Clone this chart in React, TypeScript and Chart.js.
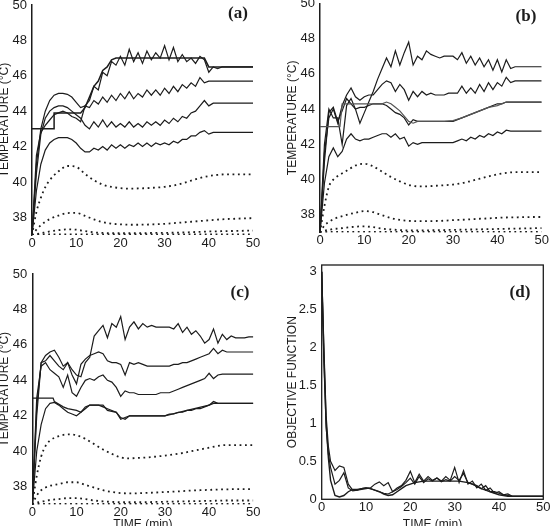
import React, { useEffect, useRef } from "react";
import { Chart, registerables } from "chart.js";
Chart.register(...registerables);

// ---------- shared axes ----------
const T = [0,1,2,3,4,5,6,7,8,9,10,11,12,13,14,15,16,17,18,19,20,21,22,23,24,25,26,27,28,29,30,31,32,33,34,35,36,37,38,39,40,41,42,43,44,45,46,47,48,49,50];
const T2 = [0,1,2,3,4,6,8,10,12,14,16,18,20,22,24,26,28,30,32,34,36,38,40,42,44,46,48,50];
const OBJ_T = [0,0.5,1,1.5,2,3,4,5,6,7,8,9,10,11,12,13,14,15,16,17,18,19,20,21,22,23,24,25,26,27,28,29,30,31,32,33,34,35,36,37,38,39,40,41,42,43,44,45,46,47,48,49,50];
const TIME_TICKS = [0, 10, 20, 30, 40, 50];
const TEMP_TICKS = [38, 40, 42, 44, 46, 48, 50];
const OBJ_TICKS = [0, 0.5, 1, 1.5, 2, 2.5, 3];

// ---------- panel (a) ----------
const A_REF_T = [0, 5, 5, 11, 12, 13, 14, 15, 16, 17, 18, 19, 39, 40, 50];
const A_REF = [43, 43, 43.9, 43.9, 44.2, 44.8, 45.4, 45.7, 46.3, 46.5, 46.9, 47.0, 47.0, 46.5, 46.5];
const A1 = [37,41.5,42.8,43.2,43.5,43.8,43.9,44.0,43.9,43.7,43.6, 43.4,44.3,44.6,45.4,45.2,46.2,46.0,46.8,46.6,47.1, 46.6,47.5,46.8,47.3,46.7,47.4,46.9,47.3,47.0,47.7, 46.9,47.6,46.8,47.2,46.8,47.0,46.7,47.1,46.9,46.2, 46.5,46.4,46.5,46.5,46.5,46.5,46.5,46.5,46.5,46.5];
const A2 = [37,41,43,44,44.6,44.9,45.0,45.0,44.95,44.8,44.5, 44.2,44.3,44.2,44.6,44.4,44.8,44.5,44.9,44.6,45.0, 44.7,45.1,44.7,45.0,44.8,45.2,44.9,45.2,44.9,45.3, 45.0,45.4,45.1,45.5,45.3,45.6,45.4,45.9,45.6,45.7, 45.7,45.7,45.7,45.7,45.7,45.7,45.7,45.7,45.7,45.7];
const A3 = [37,40.5,42.7,43.6,44.0,44.2,44.3,44.3,44.2,44.0,43.8, 43.6,43.2,43.0,43.4,43.1,43.5,43.1,43.4,43.1,43.3, 43.1,43.4,43.1,43.3,43.1,43.4,43.2,43.4,43.2,43.5, 43.3,43.6,43.4,43.7,43.6,43.9,44.0,44.3,44.6,44.3, 44.45,44.45,44.45,44.45,44.45,44.45,44.45,44.45,44.45,44.45];
const A4 = [37,39.5,41.0,41.8,42.2,42.4,42.5,42.5,42.5,42.4,42.2, 41.9,41.7,41.7,41.9,41.8,42.0,41.8,42.1,41.9,42.1, 41.9,42.1,42.0,42.2,42.0,42.2,42.0,42.2,42.1,42.2, 42.1,42.3,42.2,42.4,42.4,42.6,42.6,42.8,42.9,42.7, 42.8,42.8,42.8,42.8,42.8,42.8,42.8,42.8,42.8,42.8];
const A_D1 = [37,38.3,39.1,39.7,40.1,40.6,40.9,40.85,40.45,40.1,39.85,39.72,39.65,39.62,39.63,39.65,39.68,39.72,39.8,39.92,40.07,40.22,40.33,40.4,40.43,40.43,40.43,40.43];
const A_D2 = [37,37.3,37.55,37.75,37.9,38.1,38.24,38.25,38.08,37.88,37.73,37.64,37.6,37.58,37.58,37.59,37.61,37.63,37.67,37.71,37.75,37.79,37.83,37.87,37.9,37.92,37.94,37.95];
const A_D3 = [37,37.05,37.1,37.15,37.2,37.27,37.32,37.3,37.22,37.15,37.12,37.1,37.1,37.1,37.1,37.11,37.12,37.12,37.13,37.14,37.16,37.18,37.2,37.21,37.22,37.23,37.24,37.25];
const A_D4 = [37,37.02,37.03,37.03,37.03,37.03,37.03,37.03,37.03,37.03,37.03,37.03,37.03,37.03,37.03,37.03,37.03,37.03,37.03,37.03,37.03,37.03,37.03,37.03,37.03,37.03,37.03,37.03];

// ---------- panel (b) ----------
const B_REF_T = [0,4.5,5,14,15,16,17,18,19,20,21,22,24,26,28,30,32,34,36,38,40,42,44,50];
const B_REF = [43,43,44.3,44.3,44.4,44.3,44.1,43.9,43.6,43.3,43.2,43.3,43.3,43.3,43.3,43.35,43.5,43.7,43.9,44.1,44.2,44.4,44.4,44.4];
const B1 = [37,42,44.0,43.5,43.5,42.0,44.2,44.6,44.0,43.2,43.8, 44.4,45.0,45.7,46.3,46.9,46.4,47.3,46.5,47.2,47.8, 46.5,47.0,46.8,47.3,47.1,47.0,46.9,47.0,47.0,47.0, 46.8,47.2,46.6,47.0,46.5,46.9,46.4,46.8,46.2,46.8, 46.1,46.8,46.3,46.4,46.4,46.4,46.4,46.4,46.4,46.4];
const B2 = [37,41.5,43.5,44.0,43.2,44.2,44.8,45.2,44.7,44.5,44.7, 44.8,44.8,45.1,45.4,45.6,45.5,45.0,45.4,45.1,44.5, 45.0,44.7,45.0,44.8,44.9,44.8,44.8,44.8,44.9,44.9, 44.9,45.3,44.9,45.2,44.9,45.4,45.0,45.5,45.1,45.5, 45.3,45.8,45.5,45.6,45.6,45.6,45.6,45.6,45.6,45.6];
const B3 = [37,41,43.8,44.1,43.3,43.9,44.6,44.3,44.0,44.1,44.1, 44.2,44.3,44.3,44.3,44.2,44.0,43.8,43.7,43.5,43.1, 43.4,43.3,43.3,43.3,43.3,43.3,43.3,43.3,43.3,43.3, 43.4,43.5,43.6,43.7,43.8,43.9,44.0,44.1,44.2,44.3, 44.3,44.4,44.4,44.4,44.4,44.4,44.4,44.4,44.4,44.4];
const B4 = [37,39.8,41.3,41.8,41.3,41.6,42.3,42.6,42.3,42.2,42.3, 42.3,42.4,42.5,42.6,42.6,42.4,42.6,42.3,42.4,41.9, 42.1,42.0,42.1,42.1,42.1,42.1,42.1,42.1,42.1,42.1, 42.2,42.3,42.2,42.4,42.3,42.5,42.4,42.6,42.5,42.7, 42.6,42.8,42.75,42.75,42.75,42.75,42.75,42.75,42.75,42.75];
const B_D1 = [37,38.5,39.6,40.0,40.2,40.5,40.8,40.9,40.75,40.45,40.15,39.9,39.7,39.62,39.62,39.65,39.68,39.72,39.8,39.92,40.05,40.18,40.3,40.38,40.42,40.42,40.42,40.42];
const B_D2 = [37,37.4,37.6,37.75,37.85,38.0,38.12,38.22,38.15,37.98,37.82,37.72,37.66,37.64,37.64,37.65,37.67,37.7,37.72,37.75,37.78,37.8,37.83,37.85,37.86,37.87,37.88,37.88];
const B_D3 = [37,37.1,37.15,37.2,37.22,37.28,37.33,37.35,37.3,37.22,37.17,37.14,37.12,37.12,37.12,37.13,37.14,37.15,37.16,37.17,37.18,37.19,37.2,37.21,37.22,37.23,37.24,37.25];
const B_D4 = [37,37.02,37.03,37.03,37.03,37.03,37.03,37.03,37.03,37.03,37.03,37.03,37.03,37.03,37.03,37.03,37.03,37.03,37.03,37.03,37.03,37.03,37.03,37.03,37.03,37.03,37.03,37.03];

// ---------- panel (c) ----------
const C_REF_T = [0,4.7,5,7,8,10,11,12,13,16,17,19,20,21,22,25,30,35,40,41,42,50];
const C_REF = [43,43,42.8,42.5,42.4,42.3,42.2,42.5,42.6,42.6,42.3,42.2,41.9,41.8,42.0,42.0,42.0,42.3,42.6,42.8,42.7,42.7];
const C1 = [37,42.0,45.0,45.4,45.6,45.7,45.3,44.8,45.0,44.6,44.3, 44.2,45.0,45.3,46.5,46.8,47.1,46.4,47.2,47.0,47.6, 46.3,47.0,47.3,46.9,47.2,47.0,47.1,47.0,47.0,47.0, 47.0,46.9,47.2,46.7,47.0,46.6,46.8,46.5,46.1,46.3, 46.9,46.1,46.6,46.3,46.5,46.4,46.4,46.4,46.45,46.45];
const C2 = [37,42.5,45.0,45.1,45.4,45.1,44.8,44.6,45.0,44.3,43.8, 44.9,45.2,45.4,45.5,45.6,45.5,45.1,45.0,45.0,44.9, 44.3,45.0,44.9,45.0,44.9,44.8,44.8,44.8,44.8,44.8, 44.8,44.9,44.9,45.0,45.0,45.1,45.2,45.3,45.4,45.5, 45.8,45.5,45.7,45.6,45.6,45.6,45.6,45.6,45.6,45.6];
const C3 = [37,43.0,44.8,45.0,44.6,44.4,44.2,43.6,44.3,43.3,43.1, 43.6,44.0,44.1,44.0,44.2,44.3,44.0,43.9,43.6,43.1, 43.4,43.3,43.3,43.2,43.2,43.2,43.2,43.2,43.3,43.3, 43.3,43.4,43.5,43.6,43.7,43.8,43.9,44.0,44.1,44.4, 44.1,44.3,44.35,44.35,44.35,44.35,44.35,44.35,44.35,44.35];
const C4 = [37,40.0,41.5,42.4,42.7,42.75,42.6,42.4,42.2,42.1,42.0, 42.2,42.4,42.6,42.6,42.6,42.5,42.4,42.3,42.2,41.8, 41.9,42.0,42.0,42.0,42.0,42.0,42.0,42.0,42.0,42.0, 42.1,42.1,42.2,42.2,42.3,42.3,42.4,42.4,42.5,42.6, 42.7,42.7,42.7,42.7,42.7,42.7,42.7,42.7,42.7,42.7];
const C_D1 = [37,38.6,39.7,40.3,40.6,40.85,40.95,40.9,40.7,40.4,40.1,39.85,39.65,39.6,39.62,39.65,39.7,39.75,39.82,39.9,40.0,40.1,40.2,40.3,40.35,40.35,40.35,40.35];
const C_D2 = [37,37.5,37.8,37.95,38.05,38.15,38.25,38.25,38.1,37.95,37.8,37.7,37.64,37.62,37.63,37.65,37.67,37.7,37.72,37.75,37.78,37.8,37.82,37.84,37.85,37.86,37.86,37.86];
const C_D3 = [37,37.1,37.15,37.2,37.25,37.3,37.35,37.35,37.3,37.22,37.17,37.14,37.12,37.12,37.12,37.13,37.14,37.15,37.16,37.17,37.18,37.19,37.2,37.21,37.22,37.22,37.22,37.22];
const C_D4 = [37,37.02,37.03,37.03,37.03,37.03,37.03,37.03,37.03,37.03,37.03,37.03,37.03,37.03,37.03,37.03,37.03,37.03,37.03,37.03,37.03,37.03,37.03,37.03,37.03,37.03,37.03,37.03];

// ---------- panel (d) ----------
const O1 = [3.0,1.9,1.0,0.55, 0.25,0.05,0.03,0.05,0.1,0.13,0.13,0.14,0.15, 0.14,0.12,0.1,0.07,0.05,0.06,0.1,0.14,0.18,0.2, 0.22,0.23,0.24,0.24,0.24,0.24,0.24,0.24,0.24,0.24, 0.24,0.23,0.22,0.2,0.17,0.14,0.12,0.1,0.08,0.06, 0.05,0.04,0.04,0.04,0.04,0.04,0.04,0.04,0.04,0.04];
const O2 = [3.0,2.0,1.1,0.7, 0.5,0.38,0.44,0.42,0.2,0.12,0.12,0.13,0.14, 0.15,0.2,0.23,0.18,0.22,0.1,0.15,0.18,0.25,0.37, 0.22,0.33,0.24,0.3,0.25,0.28,0.24,0.3,0.25,0.42, 0.22,0.38,0.2,0.24,0.15,0.2,0.12,0.15,0.08,0.1, 0.06,0.07,0.04,0.04,0.04,0.04,0.04,0.04,0.04,0.04];
const O3 = [3.0,1.8,0.95,0.6, 0.42,0.2,0.25,0.35,0.15,0.11,0.12,0.14,0.15, 0.14,0.12,0.1,0.08,0.07,0.1,0.13,0.17,0.22,0.28, 0.2,0.3,0.22,0.27,0.24,0.28,0.23,0.26,0.24,0.3, 0.25,0.34,0.22,0.2,0.18,0.14,0.18,0.1,0.1,0.08, 0.06,0.05,0.04,0.04,0.04,0.04,0.04,0.04,0.04,0.04];

// ---------- styling ----------
const FONT = "'Liberation Sans', Arial, Helvetica, sans-serif";
const INK = "#1c1c1c";

function pts(xs: number[], ys: number[]) {
  return ys.map((y, i) => ({ x: xs[i], y }));
}
function solid(xs: number[], ys: number[], w = 1.2, color = INK) {
  return { data: pts(xs, ys), borderColor: color, borderWidth: w, pointRadius: 0, tension: 0, fill: false };
}
function dotted(xs: number[], ys: number[]) {
  return {
    data: pts(xs, ys), borderColor: INK, borderWidth: 1.8, borderDash: [1.8, 3.6],
    pointRadius: 0, cubicInterpolationMode: "monotone", fill: false,
  };
}

const framePlugin = {
  id: "frame",
  afterDatasetsDraw(chart: any, _args: any, opts: any) {
    if (!opts || !opts.on) return;
    const { left, top, right, bottom } = chart.chartArea;
    const ctx = chart.ctx;
    ctx.save();
    ctx.strokeStyle = INK;
    ctx.lineWidth = 1.3;
    ctx.strokeRect(left, top, right - left, bottom - top);
    ctx.restore();
  },
};

type PanelDef = {
  left: number; top: number; width: number; height: number;
  padTop: number; padRight: number; yWidth: number; xHeight: number;
  yMin: number; yMax: number; yTicks: number[]; yTitle: string;
  xTitle: string; xTickPad: number; xTitlePad: number; frame: boolean;
  datasets: any[];
};

function Panel({ p }: { p: PanelDef }) {
  const ref = useRef<HTMLCanvasElement>(null);
  useEffect(() => {
    const chart = new Chart(ref.current as HTMLCanvasElement, {
      type: "line",
      data: { datasets: p.datasets },
      options: {
        animation: false,
        responsive: false,
        devicePixelRatio: 1,
        layout: { padding: { top: p.padTop, right: p.padRight, left: 0, bottom: 0 } },
        plugins: { legend: { display: false }, tooltip: { enabled: false }, frame: { on: p.frame } } as any,
        scales: {
          x: {
            type: "linear", min: 0, max: 50,
            afterBuildTicks: (s: any) => { s.ticks = TIME_TICKS.map((v) => ({ value: v })); },
            afterFit: (s: any) => { s.height = p.xHeight; },
            grid: { display: false, drawTicks: false },
            border: { display: false },
            ticks: { padding: p.xTickPad, color: INK, maxRotation: 0, autoSkip: false, font: { family: FONT, size: 13 }, callback: (v: any) => String(v) },
            title: { display: p.xTitle !== "", text: p.xTitle, color: INK, font: { family: FONT, size: 12 }, padding: { top: 0, bottom: p.xTitlePad } },
          },
          y: {
            type: "linear", min: p.yMin, max: p.yMax,
            afterBuildTicks: (s: any) => { s.ticks = p.yTicks.map((v) => ({ value: v })); },
            afterFit: (s: any) => { s.width = p.yWidth; },
            grid: { display: false, drawTicks: false },
            border: { display: !p.frame, color: INK, width: 1.5 },
            ticks: { padding: 5, color: INK, font: { family: FONT, size: 13 }, callback: (v: any) => String(v) },
            title: { display: true, text: p.yTitle, color: INK, font: { family: FONT, size: 12 }, padding: 0 },
          },
        },
      } as any,
      plugins: [framePlugin as any],
    });
    return () => chart.destroy();
  }, []);
  return (
    <canvas
      ref={ref}
      width={p.width}
      height={p.height}
      style={{ position: "absolute", left: p.left, top: p.top, width: p.width, height: p.height }}
    />
  );
}

const TEMP_TITLE = "TEMPERATURE (\u00B0C)";

const PANELS: PanelDef[] = [
  {
    left: -3, top: -10, width: 278, height: 272, padTop: 15, padRight: 22, yWidth: 35, xHeight: 27,
    yMin: 37, yMax: 50, yTicks: TEMP_TICKS, yTitle: TEMP_TITLE, xTitle: "", xTickPad: 1, xTitlePad: 0, frame: false,
    datasets: [
      solid(A_REF_T, A_REF, 1.5), solid(T, A1), solid(T, A2), solid(T, A3), solid(T, A4),
      dotted(T2, A_D1), dotted(T2, A_D2), dotted(T2, A_D3), dotted(T2, A_D4),
    ],
  },
  {
    left: 285, top: -12, width: 270, height: 272, padTop: 15.3, padRight: 13.3, yWidth: 35, xHeight: 27.5,
    yMin: 37, yMax: 50, yTicks: TEMP_TICKS, yTitle: TEMP_TITLE, xTitle: "", xTickPad: 0, xTitlePad: 0, frame: false,
    datasets: [
      solid(B_REF_T, B_REF, 1.2, "#555"), solid(T, B1), solid(T, B2), solid(T, B3), solid(T, B4),
      dotted(T2, B_D1), dotted(T2, B_D2), dotted(T2, B_D3), dotted(T2, B_D4),
    ],
  },
  {
    left: -3, top: 260, width: 278, height: 280, padTop: 14, padRight: 21.7, yWidth: 35.3, xHeight: 35.6,
    yMin: 37, yMax: 50, yTicks: TEMP_TICKS, yTitle: TEMP_TITLE, xTitle: "TIME (min)", xTickPad: 0, xTitlePad: 8, frame: false,
    datasets: [
      solid(C_REF_T, C_REF, 1.3), solid(T, C1), solid(T, C2), solid(T, C3), solid(T, C4),
      dotted(T2, C_D1), dotted(T2, C_D2), dotted(T2, C_D3), dotted(T2, C_D4),
    ],
  },
  {
    left: 285, top: 250, width: 270, height: 290, padTop: 15, padRight: 11.7, yWidth: 36.7, xHeight: 40.7,
    yMin: 0, yMax: 3.09, yTicks: OBJ_TICKS, yTitle: "OBJECTIVE FUNCTION", xTitle: "TIME (min)", xTickPad: 0, xTitlePad: 8, frame: true,
    datasets: [solid(OBJ_T, O1, 1.4), solid(OBJ_T, O2), solid(OBJ_T, O3)],
  },
];

const LABELS = [
  { text: "(a)", x: 238, y: 12 },
  { text: "(b)", x: 526, y: 15 },
  { text: "(c)", x: 240, y: 291 },
  { text: "(d)", x: 520, y: 291 },
];

export default function App() {
  return (
    <div style={{ position: "absolute", left: 0, top: 0, width: 555, height: 526, overflow: "hidden", background: "#fff" }}>
      {PANELS.map((p, i) => <Panel key={i} p={p} />)}
      {LABELS.map((l) => (
        <div
          key={l.text}
          style={{
            position: "absolute", left: l.x, top: l.y, transform: "translate(-50%, -50%)",
            fontFamily: "'Liberation Serif', 'Times New Roman', serif", fontWeight: "bold", fontSize: 17,
            lineHeight: 1, color: INK, whiteSpace: "nowrap",
          }}
        >
          {l.text}
        </div>
      ))}
    </div>
  );
}
